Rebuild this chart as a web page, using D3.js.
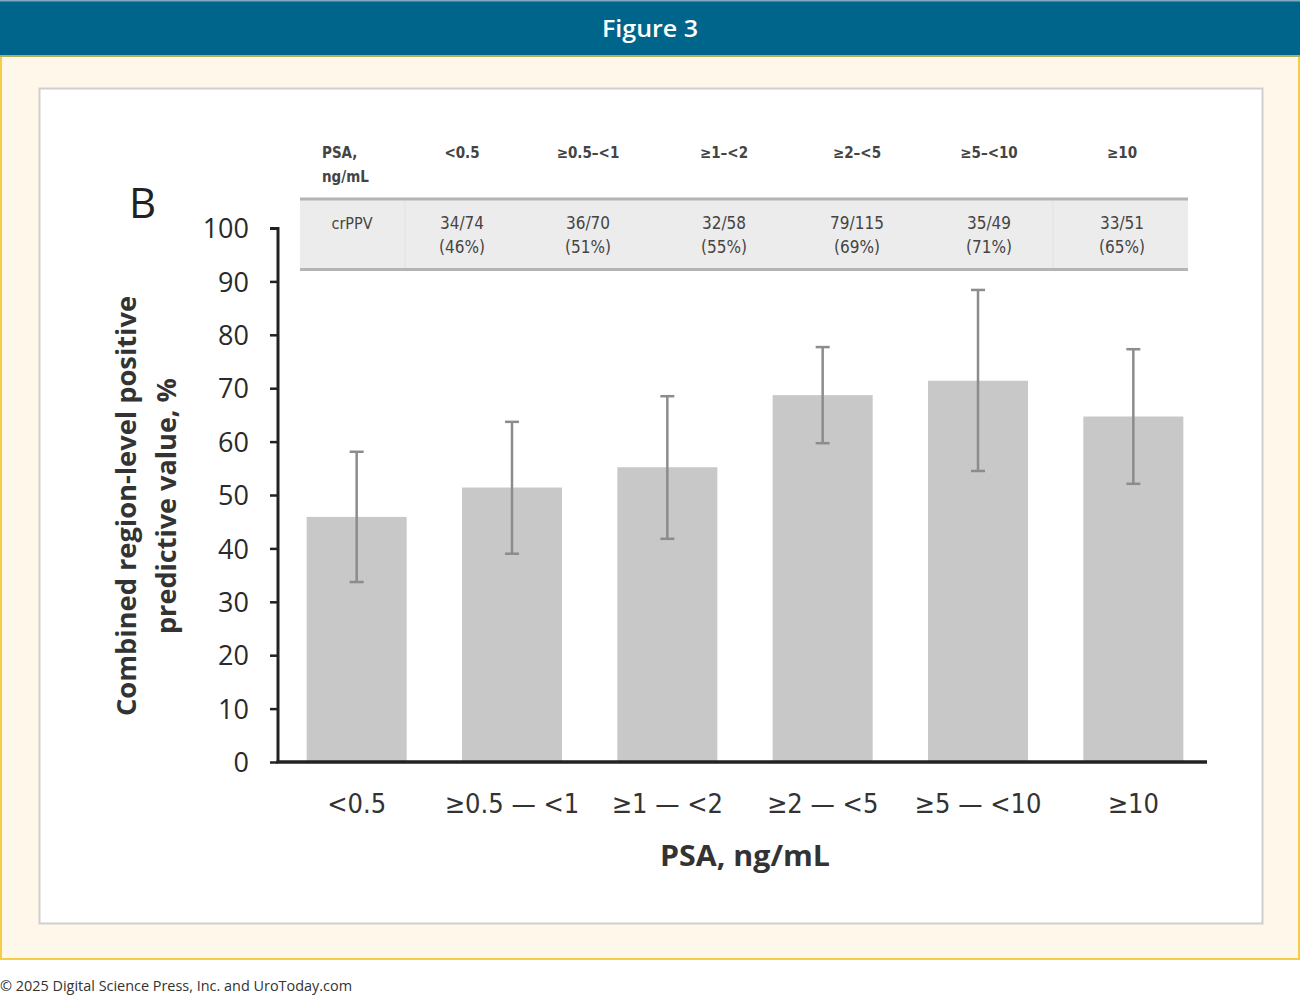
<!DOCTYPE html>
<html><head><meta charset="utf-8">
<script src="https://cdn.jsdelivr.net/npm/d3@7"></script>
<style>
html,body{margin:0;padding:0;background:#fff;}
svg{display:block;}
</style></head>
<body>
<svg id="c" width="1300" height="996"></svg>
<script>
// ---- data ----
const categories = ["<0.5", "≥0.5 — <1", "≥1 — <2", "≥2 — <5", "≥5 — <10", "≥10"];
const tableHeaders = ["<0.5", "≥0.5–<1", "≥1–<2", "≥2–<5", "≥5–<10", "≥10"];
const counts = ["34/74", "36/70", "32/58", "79/115", "35/49", "33/51"];
const pctLabels = ["(46%)", "(51%)", "(55%)", "(69%)", "(71%)", "(65%)"];
const values = [45.9, 51.4, 55.2, 68.7, 71.4, 64.7];
const ciLow = [33.7, 39.0, 41.8, 59.7, 54.5, 52.1];
const ciHigh = [58.1, 63.7, 68.5, 77.7, 88.4, 77.3];
const yTicks = [0, 10, 20, 30, 40, 50, 60, 70, 80, 90, 100];

const svg = d3.select("#c");
const W = 1300, H = 996;

// header band
svg.append("rect").attr("x",0).attr("y",0).attr("width",W).attr("height",56).attr("fill","#00658b");
svg.append("rect").attr("x",0).attr("y",0).attr("width",W).attr("height",1.5).attr("fill","#7fa9bd");
svg.append("text").attr("x",650).attr("y",37).attr("text-anchor","middle")
  .attr("fill","#fff").attr("font-family","'Open Sans', sans-serif").attr("font-weight",600)
  .attr("font-size",24).attr("textLength",96).attr("lengthAdjust","spacingAndGlyphs").text("Figure 3");

// cream panel
svg.append("rect").attr("x",1).attr("y",56).attr("width",W-2).attr("height",903)
  .attr("fill","#fff8ea").attr("stroke","#f6cd45").attr("stroke-width",2);
svg.append("rect").attr("x",0).attr("y",55).attr("width",W).attr("height",2).attr("fill","#6a8f7a").attr("opacity",0.5);
// white inner box
svg.append("rect").attr("x",39.5).attr("y",88.5).attr("width",1223).attr("height",835)
  .attr("fill","#fff").attr("stroke","#cfcfcf").attr("stroke-width",2);

// footer
svg.append("text").attr("x",0).attr("y",991).attr("fill","#333")
  .attr("font-family","'Open Sans', sans-serif").attr("font-size",15)
  .attr("textLength",352).attr("lengthAdjust","spacingAndGlyphs")
  .text("© 2025 Digital Science Press, Inc. and UroToday.com");

// ---- chart ----
const y = d3.scaleLinear().domain([0,100]).range([762,228]);
const x = d3.scaleBand().domain(categories).range([279,1211]).paddingInner(0.356).paddingOuter(0.178);

const fontC = "'Liberation Sans Narrow','DejaVu Sans Condensed','Open Sans',sans-serif";

// bars
svg.append("g").selectAll("rect").data(values).join("rect")
  .attr("x",(d,i)=>x(categories[i]))
  .attr("width",x.bandwidth())
  .attr("y",d=>y(d))
  .attr("height",d=>y(0)-y(d))
  .attr("fill","#c8c8c8");

// error bars
const eb = svg.append("g").attr("stroke","#8c8c8c").attr("stroke-width",2.5);
categories.forEach((c,i)=>{
  const cx = x(c)+x.bandwidth()/2;
  eb.append("line").attr("x1",cx).attr("x2",cx).attr("y1",y(ciLow[i])).attr("y2",y(ciHigh[i]));
  eb.append("line").attr("x1",cx-7).attr("x2",cx+7).attr("y1",y(ciLow[i])).attr("y2",y(ciLow[i]));
  eb.append("line").attr("x1",cx-7).attr("x2",cx+7).attr("y1",y(ciHigh[i])).attr("y2",y(ciHigh[i]));
});

// y axis
const yAxis = svg.append("g").attr("transform","translate(278,0)")
  .call(d3.axisLeft(y).tickValues(yTicks).tickSize(8).tickPadding(21));
yAxis.select(".domain").attr("stroke","#222").attr("stroke-width",3).attr("d","M-8,228.5H0V762");
yAxis.selectAll(".tick line").attr("stroke","#222").attr("stroke-width",2.5);
yAxis.selectAll(".tick text").attr("font-family","'Open Sans', sans-serif").attr("font-size",27)
  .attr("fill","#2a2a2a").attr("dy","0.36em");

// x axis
const xAxis = svg.append("g").attr("transform","translate(0,762)")
  .call(d3.axisBottom(x).tickSize(0).tickPadding(32));
xAxis.select(".domain").attr("stroke","#222").attr("stroke-width",3.5).attr("d","M276.5,0H1207");
xAxis.selectAll(".tick text").attr("font-family",fontC).attr("font-size",27).attr("fill","#333");

// axis titles
svg.append("text").attr("text-anchor","middle").attr("font-family","'Open Sans', sans-serif")
  .attr("font-weight",700).attr("font-size",28).attr("fill","#333")
  .attr("x",745).attr("y",866).text("PSA, ng/mL")
  .attr("textLength",170).attr("lengthAdjust","spacingAndGlyphs");
const yt = svg.append("text").attr("text-anchor","middle").attr("font-family","'Open Sans', sans-serif")
  .attr("font-weight",700).attr("font-size",26).attr("fill","#333")
  .attr("transform","translate(136,506) rotate(-90)");
yt.append("tspan").attr("x",0).attr("y",0).attr("textLength",420).attr("lengthAdjust","spacingAndGlyphs").text("Combined region-level positive");
yt.append("tspan").attr("x",0).attr("y",40).attr("textLength",256).attr("lengthAdjust","spacingAndGlyphs").text("predictive value, %");

// panel letter
svg.append("text").attr("x",129).attr("y",218).attr("font-family","'Open Sans', sans-serif")
  .attr("font-size",42).attr("fill","#222").text("B");

// ---- table ----
const colCenters = [462, 588, 724, 857, 989, 1122];
svg.append("rect").attr("x",300).attr("y",199).attr("width",888).attr("height",70).attr("fill","#ececec");
svg.append("line").attr("x1",300).attr("x2",1188).attr("y1",199).attr("y2",199).attr("stroke","#b4b4b4").attr("stroke-width",3);
svg.append("line").attr("x1",300).attr("x2",1188).attr("y1",269.5).attr("y2",269.5).attr("stroke","#b4b4b4").attr("stroke-width",3);
[405, 1053].forEach(sx=>svg.append("line").attr("x1",sx).attr("x2",sx).attr("y1",201).attr("y2",268).attr("stroke","#e2e2e2").attr("stroke-width",1));

const tf = "'DejaVu Sans Condensed','Open Sans',sans-serif";
const tcol = "#444";
svg.append("text").attr("x",322).attr("y",158).attr("font-family",tf).attr("font-size",15).attr("font-weight",600).attr("fill",tcol).text("PSA,");
svg.append("text").attr("x",322).attr("y",182).attr("font-family",tf).attr("font-size",15).attr("font-weight",600).attr("fill",tcol).text("ng/mL");
svg.append("text").attr("x",352).attr("y",229).attr("text-anchor","middle").attr("font-family",tf).attr("font-size",16).attr("fill",tcol).text("crPPV");

svg.append("g").selectAll("text").data(tableHeaders).join("text")
  .attr("x",(d,i)=>colCenters[i]).attr("y",158).attr("text-anchor","middle")
  .attr("font-family",tf).attr("font-size",15).attr("font-weight",600).attr("fill",tcol).text(d=>d);
svg.append("g").selectAll("text").data(counts).join("text")
  .attr("x",(d,i)=>colCenters[i]).attr("y",229).attr("text-anchor","middle")
  .attr("font-family",tf).attr("font-size",17).attr("fill",tcol).text(d=>d);
svg.append("g").selectAll("text").data(pctLabels).join("text")
  .attr("x",(d,i)=>colCenters[i]).attr("y",253).attr("text-anchor","middle")
  .attr("font-family",tf).attr("font-size",17).attr("fill",tcol).text(d=>d);
</script>
</body></html>
